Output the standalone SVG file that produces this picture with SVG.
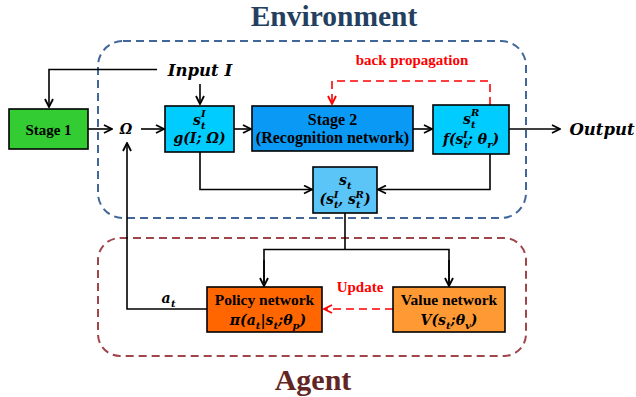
<svg xmlns="http://www.w3.org/2000/svg" width="636" height="397" viewBox="0 0 636 397">
<style>
.box{stroke:#000;stroke-width:1.6}
.lbl{font-family:"Liberation Serif",serif;font-weight:bold;font-size:15.5px;fill:#000;text-anchor:middle}
.m{font-family:"DejaVu Serif",serif;font-weight:bold;font-style:italic;font-size:14px;fill:#000;text-anchor:middle}
.ms{font-family:"DejaVu Serif",serif;font-weight:bold;font-style:italic;font-size:10px;fill:#000}
.c{fill:none;stroke:#000;stroke-width:1.6}
.r{fill:none;stroke:#ff0000;stroke-width:1.6;stroke-dasharray:8 5}
.red{font-family:"Liberation Serif",serif;font-weight:bold;font-size:15px;fill:#ff0000;text-anchor:middle}
</style>
<defs>
<marker id="a" viewBox="0 0 10 10" refX="9" refY="5" markerWidth="10" markerHeight="10" markerUnits="userSpaceOnUse" orient="auto">
<path d="M1,1 L9,5 L1,9" fill="none" stroke="#000" stroke-width="1.8"/>
</marker>
<marker id="ar" viewBox="0 0 10 10" refX="9" refY="5" markerWidth="10" markerHeight="10" markerUnits="userSpaceOnUse" orient="auto">
<path d="M1,1 L9,5 L1,9" fill="none" stroke="#ff0000" stroke-width="1.8"/>
</marker>
</defs>
<rect fill="#fff" width="636" height="397"/>
<g id="environment">
<rect x="98" y="41" width="428" height="177" rx="25" fill="none" stroke="#41679a" stroke-width="2" stroke-dasharray="8 5"/>
<text x="334" y="26" text-anchor="middle" style="font-family:'Liberation Serif',serif;font-weight:bold;font-size:29.5px;fill:#243f60">Environment</text>
</g>
<g id="agent">
<rect x="98" y="238" width="428" height="118" rx="22" fill="none" stroke="#a0454a" stroke-width="2" stroke-dasharray="8 5"/>
<text x="313" y="390" text-anchor="middle" style="font-family:'Liberation Serif',serif;font-weight:bold;font-size:30px;fill:#632523">Agent</text>
</g>
<g id="connectors">
<polyline class="c" points="157,69.5 49,69.5 49,107" marker-end="url(#a)"/>
<line class="c" x1="200" y1="84" x2="200" y2="104" marker-end="url(#a)"/>
<line class="c" x1="88" y1="129" x2="112" y2="129" marker-end="url(#a)"/>
<line class="c" x1="141" y1="129" x2="164" y2="129" marker-end="url(#a)"/>
<line class="c" x1="234" y1="129" x2="251" y2="129" marker-end="url(#a)"/>
<line class="c" x1="413" y1="129" x2="432" y2="129" marker-end="url(#a)"/>
<line class="c" x1="509" y1="129" x2="560" y2="129" marker-end="url(#a)"/>
<polyline class="c" points="200,152 200,189.5 312,189.5" marker-end="url(#a)"/>
<polyline class="c" points="490,154 490,189.5 378,189.5" marker-end="url(#a)"/>
<polyline class="c" points="345,213 345,249.5"/>
<polyline class="c" points="264,286 264,249.5 449,249.5 449,286" />
<line class="c" x1="264" y1="260" x2="264" y2="286" marker-end="url(#a)"/>
<line class="c" x1="449" y1="260" x2="449" y2="286" marker-end="url(#a)"/>
<polyline class="c" points="207,309 127,309 127,143" marker-end="url(#a)"/>
<polyline class="r" points="490,105 490,81 332,81 332,104" marker-end="url(#ar)"/>
<line class="r" x1="393" y1="309" x2="324" y2="309" marker-end="url(#ar)"/>
<text class="red" x="412" y="65">back propagation</text>
<text class="red" x="360" y="292">Update</text>
<text class="m" x="200" y="76" style="font-size:16.5px">Input I</text>
<text class="m" x="126" y="134" style="font-size:14px">Ω</text>
<text class="m" x="602" y="135" style="font-size:16.5px">Output</text>
<text class="m" x="166" y="303">a</text>
<text class="ms" x="171" y="307">t</text>
</g>
<g id="stage1">
<rect class="box" x="9" y="109" width="79" height="40" fill="#33cc33"/>
<text class="lbl" x="48.5" y="135" style="font-size:15px">Stage 1</text>
</g>
<g id="sI">
<rect class="box" x="165" y="106" width="69" height="46" fill="#00ccff"/>
<text class="m" x="197" y="125">s</text>
<text class="ms" x="201" y="129">t</text>
<text class="ms" x="201" y="117">I</text>
<text class="m" x="199.5" y="143">g(I; Ω)</text>
</g>
<g id="stage2">
<rect class="box" x="252" y="106" width="161" height="45" fill="#0a9af5"/>
<text class="lbl" x="332.5" y="125" style="font-size:16px">Stage 2</text>
<text class="lbl" x="332.5" y="143" style="font-size:16px">(Recognition network)</text>
</g>
<g id="sR">
<rect class="box" x="433" y="105" width="76" height="49" fill="#00ccff"/>
<text class="m" x="467" y="124">s</text>
<text class="ms" x="471" y="128">t</text>
<text class="ms" x="471" y="116">R</text>
<text class="m" x="471" y="144">f(s<tspan dy="4" style="font-size:10px">t</tspan><tspan dx="-5" dy="-10" style="font-size:10px">I</tspan><tspan dy="6">; θ</tspan><tspan dy="4" style="font-size:10px">r</tspan><tspan dy="-4">)</tspan></text>
</g>
<g id="st">
<rect class="box" x="313" y="167" width="64" height="46" fill="#5bc5f8"/>
<text class="m" x="343" y="185">s</text>
<text class="ms" x="347" y="189">t</text>
<text class="m" x="345" y="204">(s<tspan dy="4" style="font-size:10px">t</tspan><tspan dx="-5" dy="-10" style="font-size:10px">I</tspan><tspan dy="6">, s</tspan><tspan dy="4" style="font-size:10px">t</tspan><tspan dx="-5" dy="-10" style="font-size:10px">R</tspan><tspan dy="6">)</tspan></text>
</g>
<g id="policy">
<rect class="box" x="207" y="287" width="115" height="45" fill="#ff6600"/>
<text class="lbl" x="264.5" y="305">Policy network</text>
<text class="m" x="268" y="325">π(a<tspan dy="4" style="font-size:10px">t</tspan><tspan dy="-4">|s</tspan><tspan dy="4" style="font-size:10px">t</tspan><tspan dy="-4">;θ</tspan><tspan dy="4" style="font-size:10px">p</tspan><tspan dy="-4">)</tspan></text>
</g>
<g id="value">
<rect class="box" x="393" y="287" width="112" height="45" fill="#ff9933"/>
<text class="lbl" x="449" y="305">Value network</text>
<text class="m" x="449" y="325">V(s<tspan dy="4" style="font-size:10px">t</tspan><tspan dy="-4">;θ</tspan><tspan dy="4" style="font-size:10px">v</tspan><tspan dy="-4">)</tspan></text>
</g>
</svg>
